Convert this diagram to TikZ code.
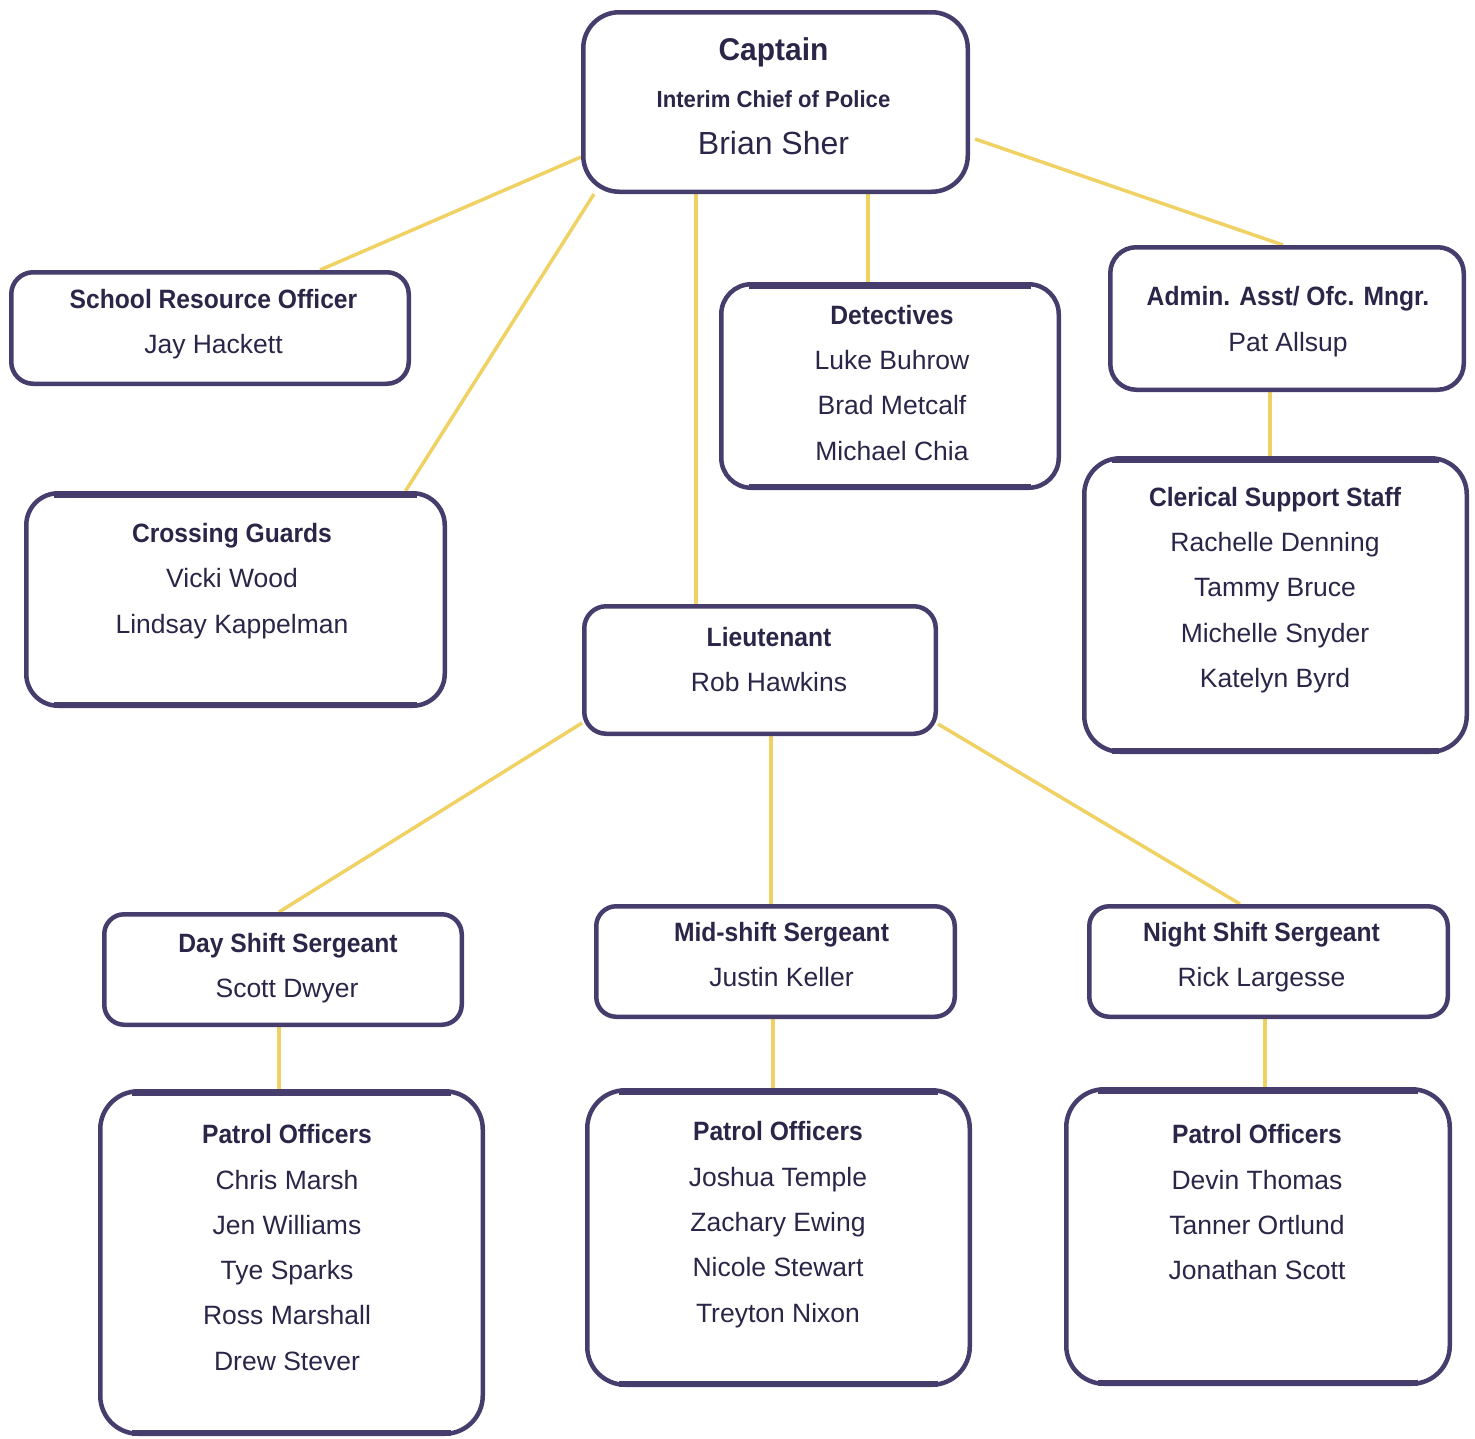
\documentclass[tikz,border=0pt]{standalone}
\usepackage{fontspec}
\setmainfont{Liberation Sans}
\newfontfamily\tfont[FakeStretch=0.93]{Liberation Sans}
\newfontfamily\cfont[FakeStretch=0.95]{Liberation Sans}
\usetikzlibrary{backgrounds}
\definecolor{ink}{RGB}{43,38,72}
\definecolor{edge}{RGB}{70,61,108}
\definecolor{gold}{RGB}{240,210,100}
\tikzset{
  obox/.style={rectangle, draw=edge, fill=white, line width=4.5pt, inner sep=0pt},
  band/.style={draw=edge, line width=6pt},
  link/.style={draw=gold, line width=3.5pt},
  ttl/.style={anchor=base, inner sep=0pt, text=ink, font=\tfont\fontsize{26.5}{30}\selectfont\bfseries},
  nm/.style={anchor=base, inner sep=0pt, text=ink, font=\fontsize{26.5}{30}\selectfont},
}
% name, x1, y1, x2, y2, corner radius
\newcommand\orgbox[6]{%
  \node[obox, rounded corners=#6pt, minimum width={#4-#2-4.5}, minimum height={#5-#3-4.5}]
    (#1) at ({(#2+#4)/2},{(#3+#5)/2}) {};}
% thicker top and bottom edges: name, inset
\newcommand\bands[2]{%
  \draw[band] ([xshift=#2pt,yshift=-3.5pt]#1.north west) -- ([xshift=-#2pt,yshift=-3.5pt]#1.north east);
  \draw[band] ([xshift=#2pt,yshift=3.5pt]#1.south west) -- ([xshift=-#2pt,yshift=3.5pt]#1.south east);}
\begin{document}
\begin{tikzpicture}[x=1pt,y=-1pt]
\useasboundingbox (0,0) rectangle (1475,1438);

% boxes
\orgbox{cap}{581}{10}{970}{194}{36}
\orgbox{sro}{9}{270}{411}{386}{22}
\orgbox{cg}{24}{491}{447}{708}{32}
\orgbox{det}{719}{282}{1061}{490}{30}
\orgbox{adm}{1108}{245}{1466}{392}{26}
\orgbox{cler}{1082}{456}{1469}{754}{36}
\orgbox{lt}{582}{604}{938}{736}{22}
\orgbox{day}{102}{912}{464}{1027}{20}
\orgbox{mid}{594}{904}{957}{1019}{20}
\orgbox{night}{1087}{904}{1450}{1019}{20}
\orgbox{pa}{98}{1089}{485}{1436}{38}
\orgbox{pb}{585}{1088}{972}{1387}{38}
\orgbox{pc}{1064}{1087}{1452}{1386}{38}

\bands{cg}{30}
\bands{det}{30}
\bands{cler}{30}
\bands{pa}{34}
\bands{pb}{34}
\bands{pc}{34}

% texts
\node[anchor=base, inner sep=0pt, text=ink, font=\cfont\fontsize{31.5}{34}\selectfont\bfseries] (cap-t) at (773.5,60) {Captain};
\node[anchor=base, inner sep=0pt, text=ink, font=\cfont\fontsize{23.3}{26}\selectfont\bfseries] (cap-s) at (773.5,107) {Interim Chief of Police};
\node[anchor=base, inner sep=0pt, text=ink, font=\fontsize{32}{36}\selectfont] (cap-n) at (773.5,154) {Brian Sher};

\node[ttl] (sro-t) at (213.5,308) {School Resource Officer};
\node[nm] (sro-1) at (213.5,353) {Jay Hackett};

\node[ttl] (cg-t) at (232,542) {Crossing Guards};
\node[nm] (cg-1) at (232,587) {Vicki Wood};
\node[nm] (cg-2) at (232,633) {Lindsay Kappelman};

\node[ttl] (det-t) at (892,324) {Detectives};
\node[nm] (det-1) at (892,369) {Luke Buhrow};
\node[nm] (det-2) at (892,414) {Brad Metcalf};
\node[nm] (det-3) at (892,460) {Michael Chia};

\node[ttl] (adm-t) at (1288,305) {Admin. Asst/ Ofc. Mngr.};
\node[nm] (adm-1) at (1288,351) {Pat Allsup};

\node[ttl] (cler-t) at (1275,506) {Clerical Support Staff};
\node[nm] (cler-1) at (1275,551) {Rachelle Denning};
\node[nm] (cler-2) at (1275,596) {Tammy Bruce};
\node[nm] (cler-3) at (1275,642) {Michelle Snyder};
\node[nm] (cler-4) at (1275,687) {Katelyn Byrd};

\node[ttl] (lt-t) at (769,646) {Lieutenant};
\node[nm] (lt-1) at (769,691) {Rob Hawkins};

\node[ttl] (day-t) at (288,952) {Day Shift Sergeant};
\node[nm] (day-1) at (287,997) {Scott Dwyer};

\node[ttl] (mid-t) at (781.5,941) {Mid-shift Sergeant};
\node[nm] (mid-1) at (781.5,986) {Justin Keller};

\node[ttl] (night-t) at (1261.5,941) {Night Shift Sergeant};
\node[nm] (night-1) at (1261.5,986) {Rick Largesse};

\node[ttl] (pa-t) at (287,1143) {Patrol Officers};
\node[nm] (pa-1) at (287,1189) {Chris Marsh};
\node[nm] (pa-2) at (287,1234) {Jen Williams};
\node[nm] (pa-3) at (287,1279) {Tye Sparks};
\node[nm] (pa-4) at (287,1324) {Ross Marshall};
\node[nm] (pa-5) at (287,1370) {Drew Stever};

\node[ttl] (pb-t) at (778,1140) {Patrol Officers};
\node[nm] (pb-1) at (778,1186) {Joshua Temple};
\node[nm] (pb-2) at (778,1231) {Zachary Ewing};
\node[nm] (pb-3) at (778,1276) {Nicole Stewart};
\node[nm] (pb-4) at (778,1322) {Treyton Nixon};

\node[ttl] (pc-t) at (1257,1143) {Patrol Officers};
\node[nm] (pc-1) at (1257,1189) {Devin Thomas};
\node[nm] (pc-2) at (1257,1234) {Tanner Ortlund};
\node[nm] (pc-3) at (1257,1279) {Jonathan Scott};

% connectors
\begin{pgfonlayer}{background}
\draw[link] ([yshift=-55pt]cap.west) -- ([xshift=110pt]sro.north);
\draw[link] ([xshift=13pt]cap.south west) -- ([xshift=170pt]cg.north);
\draw[link] ([xshift=-79.5pt]cap.south) -- ([xshift=-64pt]lt.north);
\draw[link] ([xshift=92.5pt]cap.south) -- ([xshift=-22pt]det.north);
\draw[link] ([xshift=5pt,yshift=-37pt]cap.east) -- ([xshift=-4pt]adm.north);
\draw[link] ([xshift=-17pt]adm.south) -- ([xshift=-5.5pt]cler.north);
\draw[link] ([yshift=-53pt]lt.west) -- ([xshift=-4pt]day.north);
\draw[link] ([xshift=11pt]lt.south) -- ([xshift=-4.5pt]mid.north);
\draw[link] ([yshift=-54pt]lt.east) -- ([xshift=-28.5pt]night.north);
\draw[link] ([xshift=-4pt]day.south) -- ([xshift=-12.5pt]pa.north);
\draw[link] ([xshift=-2.5pt]mid.south) -- ([xshift=-5.5pt]pb.north);
\draw[link] ([xshift=-3.5pt]night.south) -- ([xshift=7pt]pc.north);
\end{pgfonlayer}
\end{tikzpicture}
\end{document}
